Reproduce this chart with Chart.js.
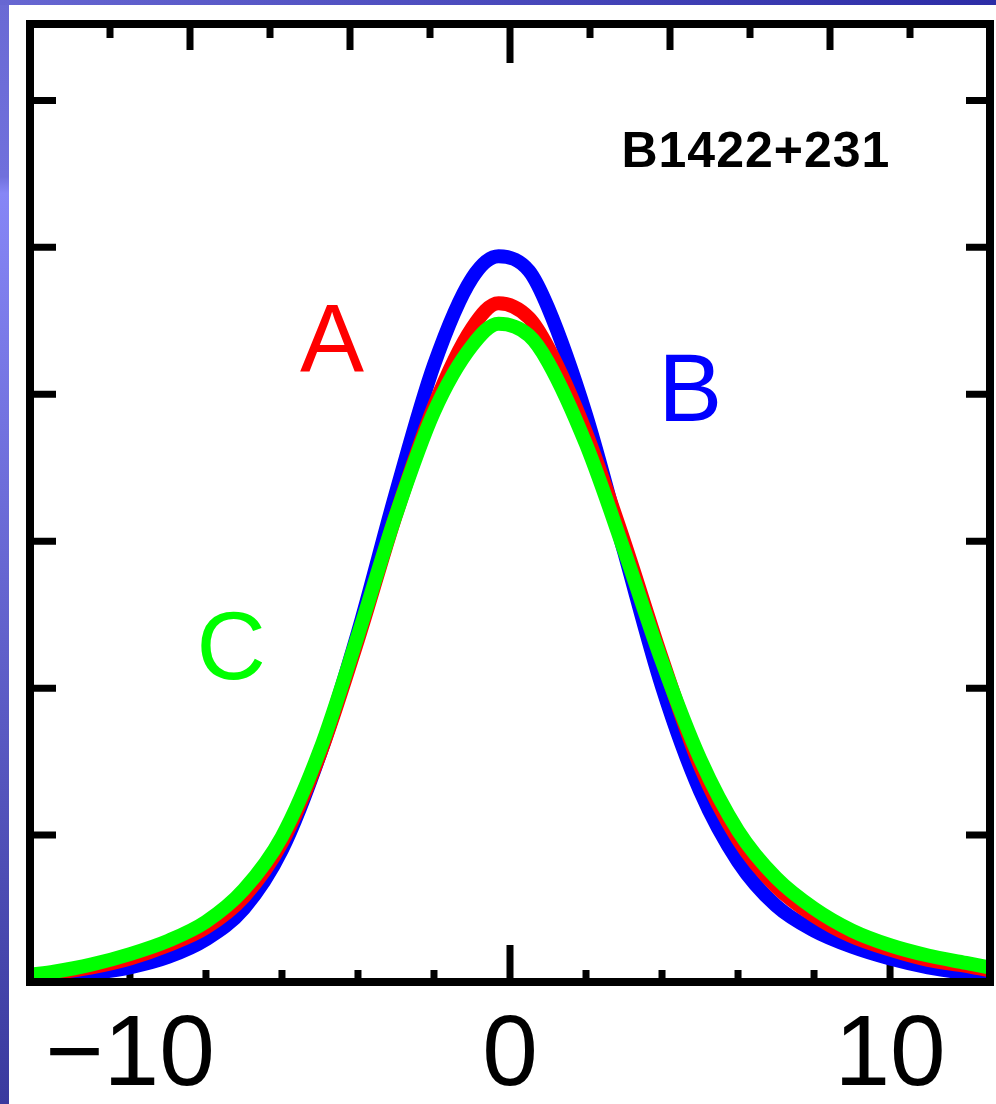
<!DOCTYPE html>
<html>
<head>
<meta charset="utf-8">
<script src="https://cdn.jsdelivr.net/npm/chart.js@4.4.0/dist/chart.umd.min.js"></script>
<style>
  html, body { margin: 0; padding: 0; background: #fff; }
  #wrap { width: 996px; height: 1104px; }
</style>
</head>
<body>
<div id="wrap"><canvas id="profiles"></canvas></div>
<script>
// line profiles of the three images
const velocity = [-12.6, -12, -11, -10, -9, -8, -7, -6, -5, -4, -3, -2, -1, -0.3, 0.5, 1, 2, 3, 4, 5, 6, 7, 8, 9, 10, 11, 12, 12.6];
const imageA = [0.04, 0.06, 0.10, 0.16, 0.25, 0.37, 0.58, 0.95, 1.55, 2.33, 3.18, 3.92, 4.45, 4.62, 4.52, 4.32, 3.74, 3.00, 2.20, 1.47, 0.97, 0.65, 0.45, 0.31, 0.22, 0.15, 0.11, 0.08];
const imageB = [0.01, 0.03, 0.06, 0.10, 0.17, 0.29, 0.50, 0.90, 1.55, 2.38, 3.33, 4.20, 4.79, 4.94, 4.84, 4.59, 3.86, 2.93, 2.01, 1.30, 0.82, 0.52, 0.35, 0.24, 0.16, 0.10, 0.06, 0.04];
const imageC = [0.05, 0.07, 0.12, 0.19, 0.28, 0.41, 0.63, 0.99, 1.58, 2.36, 3.18, 3.88, 4.33, 4.48, 4.40, 4.22, 3.66, 2.94, 2.18, 1.52, 1.03, 0.71, 0.50, 0.35, 0.25, 0.18, 0.13, 0.10];

const bottomLabels = [-10, 0, 10];
const bottomTicks = [-12, -10, -8, -6, -4, -2, 0, 2, 4, 6, 8, 10, 12];
const topTicks = [-5, -4, -3, -2, -1, 0, 1, 2, 3, 4, 5];
const sideTicks = [1, 2, 3, 4, 5, 6];

function points(values) {
    return velocity.map(function(v, i) { return { x: v, y: values[i] }; });
}

const notes = [
    { text: 'A', x: -4.68, y: 4.16, color: '#ff0000', font: '96px "Liberation Sans", Arial, sans-serif', spacing: '0px' },
    { text: 'B', x: 4.74, y: 3.82, color: '#0000ff', font: '96px "Liberation Sans", Arial, sans-serif', spacing: '0px' },
    { text: 'C', x: -7.34, y: 2.06, color: '#00ff00', font: '96px "Liberation Sans", Arial, sans-serif', spacing: '0px' },
    { text: 'B1422+231', x: 6.47, y: 5.55, color: '#000000', font: 'bold 50px "Liberation Sans", Arial, sans-serif', spacing: '1px' }
];

const frame = {
    id: 'frame',
    beforeDraw(chart) {
        const ctx = chart.ctx;
        const w = chart.width, h = chart.height;
        // slide background peeking out on the left and top
        const side = ctx.createLinearGradient(0, 0, 0, h);
        side.addColorStop(0, '#6a6ad4');
        side.addColorStop(0.16, '#7070dc');
        side.addColorStop(0.175, '#8686f6');
        side.addColorStop(1, '#3a3a9e');
        ctx.save();
        ctx.fillStyle = side;
        ctx.fillRect(0, 0, w, h);
        const top = ctx.createLinearGradient(0, 0, w, 0);
        top.addColorStop(0, '#6767d2');
        top.addColorStop(1, '#2c2ca6');
        ctx.fillStyle = top;
        ctx.fillRect(0, 0, w, 5);
        ctx.fillStyle = '#ffffff';
        ctx.fillRect(9, 5, w - 9, h - 5);
        ctx.restore();
    },
    beforeDatasetsDraw(chart) {
        const ctx = chart.ctx;
        const a = chart.chartArea;
        const xs = chart.scales.x, xt = chart.scales.xTop, ys = chart.scales.y;
        ctx.save();
        ctx.strokeStyle = '#000';
        ctx.lineWidth = 7;
        ctx.beginPath();
        bottomTicks.forEach(function(v) {
            const px = xs.getPixelForValue(v);
            const len = v === 0 ? 37 : (v % 10 === 0 ? 18 : 12);
            ctx.moveTo(px, a.bottom);
            ctx.lineTo(px, a.bottom - len);
        });
        topTicks.forEach(function(v) {
            const px = xt.getPixelForValue(v);
            const len = v === 0 ? 39 : (v % 2 === 0 ? 26 : 14);
            ctx.moveTo(px, a.top);
            ctx.lineTo(px, a.top + len);
        });
        sideTicks.forEach(function(v) {
            const py = ys.getPixelForValue(v);
            ctx.moveTo(a.left, py);
            ctx.lineTo(a.left + 26, py);
            ctx.moveTo(a.right, py);
            ctx.lineTo(a.right - 24, py);
        });
        ctx.stroke();
        ctx.restore();
    },
    afterDraw(chart) {
        const ctx = chart.ctx;
        const a = chart.chartArea;
        const xs = chart.scales.x, ys = chart.scales.y;
        ctx.save();
        ctx.strokeStyle = '#000';
        ctx.lineWidth = 8;
        ctx.strokeRect(a.left, a.top, a.right - a.left, a.bottom - a.top);
        ctx.textAlign = 'center';
        ctx.textBaseline = 'alphabetic';
        notes.forEach(function(n) {
            ctx.font = n.font;
            ctx.letterSpacing = n.spacing;
            ctx.fillStyle = n.color;
            ctx.fillText(n.text, xs.getPixelForValue(n.x), ys.getPixelForValue(n.y));
        });
        ctx.restore();
    }
};

new Chart(document.getElementById('profiles'), {
    type: 'line',
    data: {
        datasets: [
            {
                label: 'C',
                data: points(imageC),
                borderColor: '#00ff00',
                borderWidth: 14,
                pointRadius: 0,
                cubicInterpolationMode: 'monotone'
            },
            {
                label: 'A',
                data: points(imageA),
                borderColor: '#ff0000',
                borderWidth: 14,
                pointRadius: 0,
                cubicInterpolationMode: 'monotone'
            },
            {
                label: 'B',
                data: points(imageB),
                borderColor: '#0000ff',
                borderWidth: 14,
                pointRadius: 0,
                cubicInterpolationMode: 'monotone'
            }
        ]
    },
    options: {
        responsive: true,
        maintainAspectRatio: false,
        devicePixelRatio: 1,
        animation: false,
        layout: {
            padding: { left: 30, right: 6, top: 24, bottom: 0 }
        },
        plugins: {
            legend: { display: false },
            tooltip: { enabled: false },
            title: { display: false }
        },
        scales: {
            x: {
                type: 'linear',
                position: 'bottom',
                min: -12.63,
                max: 12.63,
                grid: { display: false },
                border: { display: false },
                afterBuildTicks: function(scale) {
                    scale.ticks = bottomLabels.map(function(v) { return { value: v }; });
                },
                afterFit: function(scale) {
                    scale.height = 122;
                },
                ticks: {
                    autoSkip: false,
                    maxRotation: 0,
                    padding: 7,
                    color: '#000',
                    font: { family: '"Liberation Sans", Arial, sans-serif', size: 100 },
                    callback: function(value) {
                        return value < 0 ? '\u2212' + Math.abs(value) : String(value);
                    }
                }
            },
            xTop: {
                type: 'linear',
                position: 'top',
                display: false,
                min: -6,
                max: 6
            },
            y: {
                type: 'linear',
                display: false,
                min: 0,
                max: 6.52
            }
        }
    },
    plugins: [frame]
});
</script>
</body>
</html>
